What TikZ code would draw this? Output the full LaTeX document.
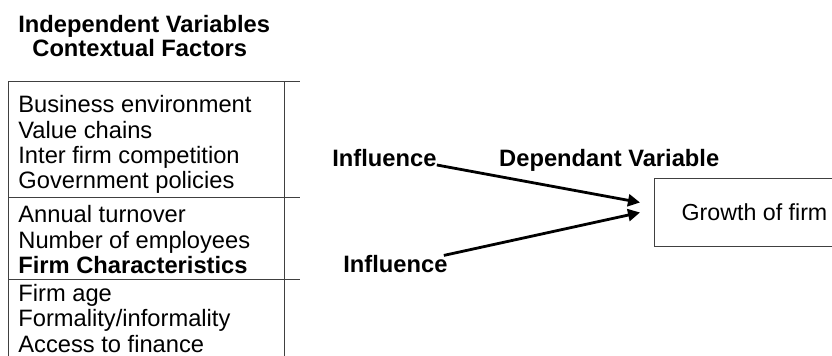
\documentclass[tikz,border=0pt]{standalone}
\usepackage{fontspec}
\setmainfont{Liberation Sans}
\usetikzlibrary{positioning,arrows.meta}
\tikzset{
  txt/.style={inner sep=0pt, anchor=base west, font=\fontsize{11.85pt}{13pt}\selectfont},
  bold/.style={txt, font=\fontsize{11.85pt}{13pt}\selectfont\bfseries},
  rule/.style={draw=black!75, line width=0.5pt},
  infl/.style={-{Triangle[length=6pt,width=6pt]}, line width=1.4pt},
}
\begin{document}
\begin{tikzpicture}[x=0.5pt,y=-0.5pt]
  \clip (0,0) rectangle (832,356);
  % Define nodes
  \node[bold] (title1) at (18,33) {Independent Variables};
  \node[bold] (title2) at (32,57) {Contextual Factors};

  \node[txt] (ctx1) at (18,112.7) {Business environment};
  \node[txt] (ctx2) at (18,138.3) {Value chains};
  \node[txt] (ctx3) at (18,164) {Inter firm competition};
  \node[txt] (ctx4) at (18,189) {Government policies};
  \node[txt] (chr1) at (18,223) {Annual turnover};
  \node[txt] (chr2) at (18,248.3) {Number of employees};
  \node[bold] (chr3) at (18,274) {Firm Characteristics};
  \node[txt] (oth1) at (18,301.7) {Firm age};
  \node[txt] (oth2) at (18,326.7) {Formality/informality};
  \node[txt] (oth3) at (18,352.7) {Access to finance};

  \node[bold] (infl1) at (332,167) {Influence};
  \node[bold, right=31pt of infl1.base east, anchor=base west] (dep) {Dependant Variable};
  \node[bold] (infl2) at (343,273) {Influence};
  \node[rule, anchor=north west, minimum width=100pt, minimum height=34pt,
        font=\fontsize{11.6pt}{13pt}\selectfont] (growth) at (654,178) {Growth of firm};

  % Table lines
  \draw[rule] (8,356) |- (300,82);
  \draw[rule] (284,82) -- (284,356);
  \draw[rule] (8,198) -- (300,198);
  \draw[rule] (8,280) -- (300,280);

  % Connect the nodes
  \draw[infl] ([yshift=1pt]infl1.base east) -- ([xshift=-7pt,yshift=5pt]growth.west);
  \draw[infl] ([xshift=-2pt]infl2.north east) -- ([xshift=-7pt]growth.west);
\end{tikzpicture}
\end{document}
